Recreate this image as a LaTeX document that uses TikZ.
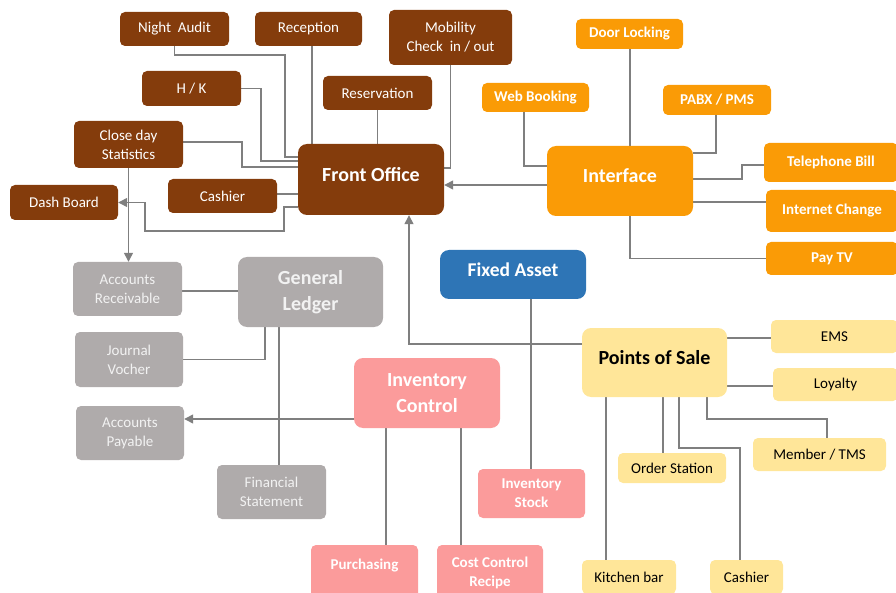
\documentclass[tikz,border=0pt]{standalone}
\usepackage{fontspec}
\setmainfont{Carlito}
\usetikzlibrary{arrows.meta,backgrounds}
\definecolor{cbrown}{HTML}{843C0C}
\definecolor{corange}{HTML}{FA9B06}
\definecolor{cgrey}{HTML}{AFABAB}
\definecolor{cblue}{HTML}{2E75B6}
\definecolor{cpink}{HTML}{FB9B9B}
\definecolor{cyellow}{HTML}{FFE699}
\definecolor{cline}{HTML}{7F7F7F}
\tikzset{
  box/.style={rectangle, rounded corners=5pt, inner sep=1pt, align=center,
    font=\fontsize{15}{19}\selectfont},
  bigbox/.style={box, rounded corners=9pt, font=\bfseries\fontsize{20}{25.5}\selectfont},
  raised/.style={text height=14pt, text depth=10pt},
  brn/.style={fill=cbrown, text=white},
  org/.style={fill=corange, text=white, font=\bfseries\fontsize{15}{19}\selectfont},
  gry/.style={fill=cgrey, text=white!95!black},
  blu/.style={fill=cblue, text=white},
  pnk/.style={fill=cpink, text=white, font=\bfseries\fontsize{15}{19}\selectfont},
  ylw/.style={fill=cyellow, text=black},
  ln/.style={draw=cline, line width=1.3pt},
  arr/.style={ln, -{Triangle[length=9pt,width=9pt]}},
  sz/.style 2 args={minimum width=#1pt, minimum height=#2pt}
}
\begin{document}
\begin{tikzpicture}[x=1pt,y=-1pt]
\useasboundingbox (0,0) rectangle (896,593);
% Front office group
\node[box,brn,sz={109}{34}] (na) at (174.5,29) {Night~ Audit};
\node[box,brn,sz={107}{34}] (rec) at (308.5,29) {Reception};
\node[box,brn,sz={123}{55}] (mob) at (450.5,37.5) {Mobility\\Check~ in / out};
\node[box,brn,sz={109}{34}] (res) at (377.5,93) {Reservation};
\node[box,brn,sz={99}{35}] (hk) at (191.5,88.5) {H / K};
\node[box,brn,sz={109}{47}] (cds) at (128.5,144.5) {Close day\\Statistics};
\node[box,brn,sz={108}{35}] (db) at (64,202.5) {Dash Board};
\node[box,brn,sz={109}{34}] (cash1) at (222.5,196) {Cashier};
\node[bigbox,brn,raised,sz={146}{71}] (fo) at (371,179.5) {Front Office};
% Interface group
\node[box,org,sz={107}{29}] (wb) at (535.5,97.5) {Web Booking};
\node[bigbox,org,raised,font=\bfseries\fontsize{20}{25.5}\selectfont,sz={146}{70}] (intf) at (620,181) {Interface};
\node[box,org,sz={107}{30}] (dl) at (629.5,34) {Door Locking};
\node[box,org,sz={108}{30}] (pabx) at (717,100) {PABX / PMS};
\node[box,org,sz={134}{39}] (tb) at (831,162.5) {Telephone Bill};
\node[box,org,sz={132}{42}] (ic) at (832,211) {Internet Change};
\node[box,org,sz={132}{33}] (ptv) at (832,258.5) {Pay TV};
% Fixed asset
\node[bigbox,blu,raised,font=\bfseries\fontsize{19.5}{24}\selectfont,sz={146}{49}] (fa) at (513,274.5) {Fixed Asset};
% General ledger group
\node[box,gry,sz={109}{54}] (ar) at (127.5,289) {Accounts\\Receivable};
\node[bigbox,gry,sz={145}{70}] (gl) at (310.5,292) {General\\Ledger};
\node[box,gry,sz={108}{55}] (jv) at (129,359.5) {Journal\\Vocher};
\node[box,gry,sz={108}{54}] (ap) at (130,433) {Accounts\\Payable};
\node[box,gry,sz={109}{54}] (fs) at (271.5,492) {Financial\\Statement};
% Inventory group
\node[bigbox,pnk,font=\bfseries\fontsize{20}{25.5}\selectfont,sz={146}{70}] (invc) at (427,393) {Inventory\\Control};
\node[box,pnk,text height=11pt,text depth=18pt,sz={107}{55}] (pur) at (364.5,572.5) {Purchasing};
\node[box,pnk,sz={106}{55}] (cc) at (490,572.5) {Cost Control\\Recipe};
\node[box,pnk,sz={107}{49}] (is) at (531.5,493.5) {Inventory\\Stock};
% POS group
\node[bigbox,ylw,raised,sz={145}{69}] (pos) at (654.5,362.5) {Points of Sale};
\node[box,ylw,sz={127}{33}] (ems) at (834.5,336.5) {EMS};
\node[box,ylw,sz={125}{33}] (loy) at (835.5,384.5) {Loyalty};
\node[box,ylw,sz={133}{33}] (mt) at (819.5,454.5) {Member / TMS};
\node[box,ylw,sz={108}{30}] (os) at (672,468) {Order Station};
\node[box,ylw,sz={94}{34}] (kb) at (629,577) {Kitchen bar};
\node[box,ylw,sz={73}{34}] (cash2) at (746.5,577) {Cashier};

\begin{scope}[on background layer]
% Front office connectors
\draw[ln] (na.south) |- (285,55) |- (fo.west |- 0,157);
\draw[ln] (rec.south -| 312,0) -- (fo.north -| 312,0);
\draw[ln] (hk.east) -- (261,88.5) |- (fo.west |- 0,161);
\draw[ln] (cds.east |- 0,142) -| (242,167) -- (fo.west |- 0,167);
\draw[ln] (cash1.east |- 0,194) -- (fo.west |- 0,194);
\draw[arr] (fo.west |- 0,207) -- (284,207) |- (145,231) |- (db.east);
\draw[arr] (cds.south) -- (ar.north -| cds.south);
\draw[ln] (res.south) -- (fo.north -| res.south);
\draw[ln] (mob.south) |- (fo.east |- 0,168);
% Interface connectors
\draw[arr] (intf.west |- 0,185) -- (fo.east |- 0,185);
\draw[ln] (wb.south -| 524,0) |- (intf.west |- 0,166);
\draw[ln] (dl.south -| 630,0) -- (intf.north -| 630,0);
\draw[ln] (pabx.south -| 716,0) |- (intf.east |- 0,153);
\draw[ln] (intf.east |- 0,179) -| (742,165) -- (tb.west |- 0,165);
\draw[ln] (intf.east |- 0,202) -- (ic.west |- 0,202);
\draw[ln] (intf.south -| 630,0) |- (ptv.west);
% POS to front office
\draw[arr] (pos.west |- 0,344) -| (fo.south -| 409,0);
\draw[ln] (fa.south -| 531,0) -- (is.north -| 531,0);
% General ledger
\draw[ln] (gl.west |- 0,291) -- (ar.east |- 0,291);
\draw[ln] (gl.south -| 265,0) |- (jv.east);
\draw[ln] (gl.south -| 279,0) -- (fs.north -| 279,0);
% Inventory
\draw[arr] (invc.west |- 0,419) -- (ap.east |- 0,419);
\draw[ln] (invc.south -| 386,0) -- (pur.north -| 386,0);
\draw[ln] (invc.south -| 461,0) -- (cc.north -| 461,0);
% POS
\draw[ln] (pos.east |- 0,338) -- (ems.west |- 0,338);
\draw[ln] (pos.east |- 0,386) -- (loy.west |- 0,386);
\draw[ln] (pos.south -| 707,0) |- (827,419) -- (mt.north -| 827,0);
\draw[ln] (pos.south -| 663,0) -- (os.north -| 663,0);
\draw[ln] (pos.south -| 679,0) |- (740,448) -- (cash2.north -| 740,0);
\draw[ln] (pos.south -| 606,0) -- (kb.north -| 606,0);
\end{scope}
\end{tikzpicture}
\end{document}
